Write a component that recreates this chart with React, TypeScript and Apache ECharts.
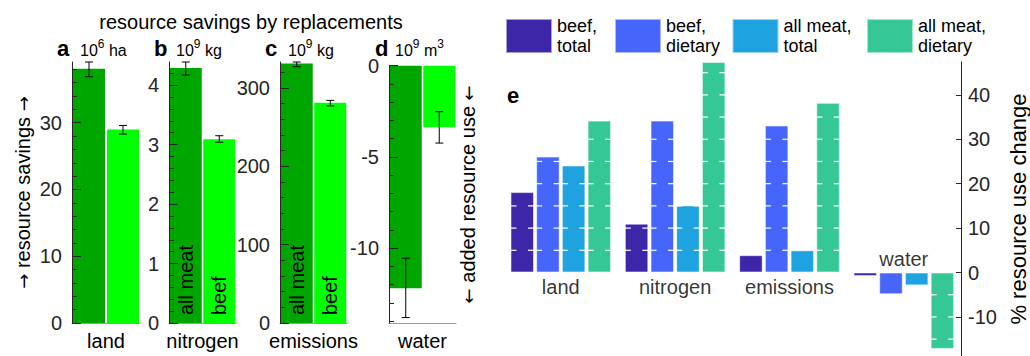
import React, { useEffect, useRef } from "react";
import * as echarts from "echarts";

// resource categories shared by both parts of the figure
const resources = ["land", "nitrogen", "emissions", "water"];
const replacements = ["all meat", "beef"];

// panels a–d: savings when replacing all meat / beef (water: added use)
const savingsAllMeat = [38.1, 4.29, 331, -12.2];
const savingsBeef = [29.0, 3.09, 281, -3.37];
const allMeatLow = [36.9, 4.17, 327, -13.8];
const allMeatHigh = [39.1, 4.39, 333, -10.55];
const beefLow = [28.3, 3.04, 277, -4.24];
const beefHigh = [29.6, 3.15, 284, -2.52];

const panelLetters = ["a", "b", "c", "d"];
const unitExponent = ["6", "9", "9", "9"];
const unitName = ["ha", "kg", "kg", "m"];
const unitNameExponent = ["", "", "", "3"];

const axisMin = [0, 0, 0, -14.1];
const axisMax = [39.1, 4.39, 333, 0];
const majorTicks = [
  [0, 10, 20, 30],
  [0, 1, 2, 3, 4],
  [0, 100, 200, 300],
  [-10, -5, 0],
];
const minorStep = [2, 0.2, 20, 1];

// panel e: % resource use change
const changeSeries = ["beef, total", "beef, dietary", "all meat, total", "all meat, dietary"];
const beefTotal = [18.1, 11.0, 3.9, -0.8];
const beefDietary = [26.1, 34.2, 33.1, -4.9];
const allMeatTotal = [24.1, 15.1, 5.0, -2.9];
const allMeatDietary = [34.2, 47.4, 38.2, -17.2];
const changeTicks = [-10, 0, 10, 20, 30, 40];
const changeMin = -18.8;
const changeMax = 47.4;
const markStep = 5;

// ---- styling / layout ----
const FONT = "'Liberation Sans', Arial, Helvetica, sans-serif";
const ARROW_FONT = "'DejaVu Sans', sans-serif";
const AX = "#262626";
const greenDark = "#00A600";
const greenLight = "#00FF00";
const changeColors = ["#3E26A8", "#4565FB", "#1FA3E0", "#35C896"];
const edge = "rgba(255,255,255,0.55)";

const panelLeft = [72, 169, 280, 389];
const panelWidth = [68, 67, 67, 67];
const panelTop = [62, 62, 62, 65.7];
const panelBottom = 332;
const letterX = [57, 154, 265, 375];
const unitX = [80, 176, 288, 395];
const kindLabels = [false, true, true, false];

const eLeft = 503.6;
const eWidth = 458;
const eTop = 62;
const eHeight = 294;
const eBarW = 23.5;
const eGap = 2.2;
const legendLeft = [505, 614, 731.5, 866];

const arrowRich = { a: { fontFamily: ARROW_FONT, fontSize: 18, color: "#000" } };

function minorValues(p: number) {
  const out: number[] = [];
  const step = minorStep[p];
  const start = Math.ceil(axisMin[p] / step);
  const end = Math.floor(axisMax[p] / step);
  for (let k = start; k <= end; k++) {
    const v = Math.round(k * step * 1000) / 1000;
    if (!majorTicks[p].includes(v)) out.push(v);
  }
  return out;
}

function buildOption() {
  const grid: any[] = [];
  const xAxis: any[] = [];
  const yAxis: any[] = [];
  const series: any[] = [];
  const graphic: any[] = [];

  for (let p = 0; p < 4; p++) {
    grid.push({
      left: panelLeft[p],
      top: panelTop[p],
      width: panelWidth[p],
      height: panelBottom - panelTop[p],
    });
    xAxis.push({
      gridIndex: p,
      type: "category",
      data: replacements,
      axisLine: { onZero: false, lineStyle: { color: "#999", width: 1 } },
      axisTick: { show: false },
      axisLabel: { show: false },
      name: resources[p],
      nameLocation: "middle",
      nameGap: 8,
      nameTextStyle: { fontSize: 20, color: "#000", fontFamily: FONT },
    });
    yAxis.push({
      gridIndex: p,
      type: "value",
      min: axisMin[p],
      max: axisMax[p],
      position: "left",
      z: 5,
      axisLine: { show: true, lineStyle: { color: AX, width: 1 } },
      axisTick: { show: true, inside: true, length: 9, customValues: majorTicks[p], lineStyle: { color: AX } },
      axisLabel: { customValues: majorTicks[p], fontSize: 20, color: AX, margin: 10, fontFamily: FONT },
      splitLine: { show: false },
      ...(p === 0
        ? {
            name: "{a|\u2192} resource savings {a|\u2192}",
            nameLocation: "middle",
            nameGap: 39,
            nameTextStyle: { fontSize: 20, color: "#000", fontFamily: FONT, rich: arrowRich },
          }
        : {}),
    });
    yAxis.push({
      gridIndex: p,
      type: "value",
      min: axisMin[p],
      max: axisMax[p],
      position: "left",
      z: 5,
      axisLine: { show: false },
      axisTick: { show: true, inside: true, length: 5, customValues: minorValues(p), lineStyle: { color: AX } },
      axisLabel: { show: false },
      splitLine: { show: false },
    });

    series.push({
      type: "bar",
      xAxisIndex: p,
      yAxisIndex: p * 2,
      barWidth: 32,
      data: [
        { value: savingsAllMeat[p], itemStyle: { color: greenDark } },
        { value: savingsBeef[p], itemStyle: { color: greenLight } },
      ],
      label: {
        show: kindLabels[p],
        position: "insideBottom",
        rotate: 90,
        align: "left",
        verticalAlign: "middle",
        distance: 8,
        formatter: "{b}",
        fontSize: 20,
        color: "#000",
        fontFamily: FONT,
      },
    });

    series.push({
      type: "custom",
      xAxisIndex: p,
      yAxisIndex: p * 2,
      z: 6,
      clip: false,
      encode: { x: 0, y: [1, 2] },
      data: [
        [0, allMeatLow[p], allMeatHigh[p]],
        [1, beefLow[p], beefHigh[p]],
      ],
      renderItem: (_params: any, api: any) => {
        const c = api.value(0);
        const lo = api.coord([c, api.value(1)]);
        const hi = api.coord([c, api.value(2)]);
        const cap = 4;
        const st = { stroke: "#000", lineWidth: 1 };
        return {
          type: "group",
          children: [
            { type: "line", shape: { x1: lo[0], y1: lo[1], x2: hi[0], y2: hi[1] }, style: st },
            { type: "line", shape: { x1: lo[0] - cap, y1: lo[1], x2: lo[0] + cap, y2: lo[1] }, style: st },
            { type: "line", shape: { x1: hi[0] - cap, y1: hi[1], x2: hi[0] + cap, y2: hi[1] }, style: st },
          ],
        };
      },
    });

    // panel heading: letter and unit
    graphic.push({
      type: "text",
      x: letterX[p],
      y: 48,
      style: {
        text: panelLetters[p],
        fontSize: 22,
        fontWeight: "bold",
        fontFamily: FONT,
        fill: "#000",
        textVerticalAlign: "middle",
      },
    });
    const unitText =
      "{u|10}{s|" + unitExponent[p] + "}{u| " + unitName[p] + "}" +
      (unitNameExponent[p] ? "{s|" + unitNameExponent[p] + "}" : "");
    graphic.push({
      type: "text",
      x: unitX[p],
      y: 49,
      style: {
        text: unitText,
        fontFamily: FONT,
        fill: "#000",
        textVerticalAlign: "middle",
        rich: {
          u: { fontSize: 16, fontFamily: FONT, verticalAlign: "bottom", lineHeight: 18 },
          s: { fontSize: 12, fontFamily: FONT, verticalAlign: "bottom", padding: [0, 0, 8, 0], lineHeight: 14 },
        },
      },
    });
  }

  // right-hand name for panel d
  yAxis.push({
    gridIndex: 3,
    type: "value",
    min: axisMin[3],
    max: axisMax[3],
    position: "right",
    axisLine: { show: false },
    axisTick: { show: false },
    axisLabel: { show: false },
    splitLine: { show: false },
    name: "{a|\u2190} added resource use {a|\u2190}",
    nameLocation: "middle",
    nameGap: 2,
    nameTextStyle: { fontSize: 20, color: "#000", fontFamily: FONT, rich: arrowRich },
  });

  // panel e
  grid.push({ left: eLeft, top: eTop, width: eWidth, height: eHeight });
  xAxis.push({
    gridIndex: 4,
    type: "category",
    data: resources,
    axisLine: { show: false },
    axisTick: { show: false },
    axisLabel: { show: false },
  });
  yAxis.push({
    gridIndex: 4,
    type: "value",
    min: changeMin,
    max: changeMax,
    position: "right",
    z: 5,
    axisLine: { show: true, lineStyle: { color: AX, width: 1 } },
    axisTick: { show: true, inside: true, length: 5, customValues: changeTicks, lineStyle: { color: AX } },
    axisLabel: { customValues: changeTicks, fontSize: 20, color: AX, margin: 7, fontFamily: FONT },
    splitLine: { show: false },
    name: "% resource use change",
    nameLocation: "middle",
    nameGap: 46,
    nameTextStyle: { fontSize: 22, color: "#000", fontFamily: FONT },
  });

  const changeData = [beefTotal, beefDietary, allMeatTotal, allMeatDietary];
  changeData.forEach((vals, s) => {
    series.push({
      type: "bar",
      name: changeSeries[s],
      xAxisIndex: 4,
      yAxisIndex: 9,
      barWidth: eBarW,
      barGap: (eGap / eBarW) * 100 + "%",
      itemStyle: { color: changeColors[s], borderColor: edge, borderWidth: 1 },
      data: vals,
    });
  });

  // white level marks along bar edges every markStep
  const markData: number[][] = [];
  changeData.forEach((vals, s) => vals.forEach((v, c) => markData.push([c, s, v])));
  series.push({
    type: "custom",
    xAxisIndex: 4,
    yAxisIndex: 9,
    z: 6,
    silent: true,
    encode: { x: 0, y: 2 },
    data: markData,
    renderItem: (_params: any, api: any) => {
      const c = api.value(0);
      const s = api.value(1);
      const v = api.value(2);
      const center = api.coord([c, 0])[0];
      const total = 4 * eBarW + 3 * eGap;
      const left = center - total / 2 + s * (eBarW + eGap);
      const right = left + eBarW;
      const sign = v < 0 ? -1 : 1;
      const children: any[] = [];
      const st = { stroke: "#fff", lineWidth: 1.2 };
      for (let k = 1; k * markStep < Math.abs(v) - 0.05; k++) {
        const y = api.coord([c, sign * k * markStep])[1];
        children.push({ type: "line", shape: { x1: left, y1: y, x2: left + 6, y2: y }, style: st });
        children.push({ type: "line", shape: { x1: right - 6, y1: y, x2: right, y2: y }, style: st });
      }
      return { type: "group", children };
    },
  });

  // category names next to the zero line
  series.push({
    type: "scatter",
    xAxisIndex: 4,
    yAxisIndex: 9,
    symbol: "rect",
    symbolSize: 1,
    silent: true,
    itemStyle: { color: "rgba(0,0,0,0)" },
    data: resources.map((_r, c) => {
      const below = changeData.some((vals) => vals[c] > 0);
      return {
        value: [c, 0],
        label: { position: below ? "bottom" : "top", distance: below ? 4 : 3 },
      };
    }),
    label: {
      show: true,
      formatter: (p: any) => resources[p.dataIndex],
      fontSize: 20,
      color: "#000",
      fontFamily: FONT,
    },
  });

  const legend = changeSeries.map((name, i) => ({
    data: [name],
    left: legendLeft[i],
    top: 16,
    padding: 0,
    itemWidth: 46,
    itemHeight: 34,
    itemGap: 0,
    selectedMode: false,
    icon: "rect",
    formatter: (n: string) => n.replace(", ", ",\n"),
    textStyle: { fontSize: 18, lineHeight: 20, color: "#000", fontFamily: FONT },
  }));

  graphic.push({
    type: "text",
    x: 251,
    y: 22,
    style: {
      text: "resource savings by replacements",
      fontSize: 20,
      fontFamily: FONT,
      fill: "#000",
      textAlign: "center",
      textVerticalAlign: "middle",
    },
  });
  graphic.push({
    type: "text",
    x: 507,
    y: 95,
    style: {
      text: "e",
      fontSize: 22,
      fontWeight: "bold",
      fontFamily: FONT,
      fill: "#000",
      textVerticalAlign: "middle",
    },
  });

  return {
    animation: false,
    backgroundColor: "#fff",
    textStyle: { fontFamily: FONT },
    grid,
    xAxis,
    yAxis,
    series,
    legend,
    graphic,
  };
}

export default function App() {
  const ref = useRef<HTMLDivElement>(null);
  useEffect(() => {
    document.body.style.margin = "0";
    if (!ref.current) return;
    const chart = echarts.init(ref.current, undefined, { renderer: "svg" });
    chart.setOption(buildOption() as any);
    return () => chart.dispose();
  }, []);
  return <div ref={ref} style={{ width: 1030, height: 356 }} />;
}
